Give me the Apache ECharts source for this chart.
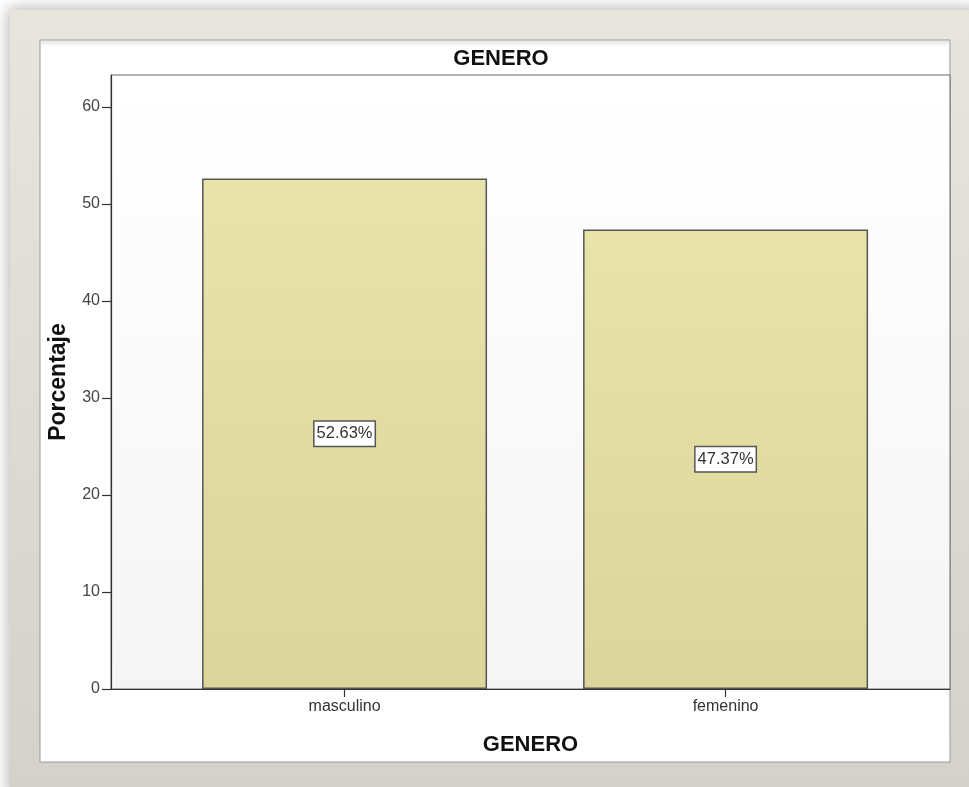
<!DOCTYPE html>
<html>
<head>
<meta charset="utf-8">
<script src="https://cdn.jsdelivr.net/npm/echarts@6/dist/echarts.min.js"></script>
<style>
  html, body { margin: 0; padding: 0; background: #ffffff; }
  #chart { width: 969px; height: 787px; }
</style>
</head>
<body>
<div id="chart"></div>
<script>
// Gender distribution (percent of respondents)
const categories = ['masculino', 'femenino'];
const percentages = [52.63, 47.37];
const yTicks = [0, 10, 20, 30, 40, 50, 60];

const FONT = 'Liberation Sans, Arial, sans-serif';

const chart = echarts.init(document.getElementById('chart'), null, { renderer: 'canvas' });

const barData = categories.map((c, i) => [i, percentages[i]]);

chart.setOption({
  animation: false,
  textStyle: { fontFamily: FONT },
  title: {
    text: 'GENERO',
    left: 496,
    textAlign: 'center',
    top: 43,
    textStyle: { fontFamily: FONT, fontSize: 22, fontWeight: 'bold', color: '#111' }
  },
  graphic: [
    {
      type: 'rect', z: -20, silent: true,
      shape: { x: 10, y: 10, width: 970, height: 790 },
      style: {
        fill: new echarts.graphic.LinearGradient(0, 0, 0, 1, [
          { offset: 0, color: '#e7e5de' },
          { offset: 1, color: '#d3d1c9' }
        ]),
        shadowBlur: 14, shadowColor: 'rgba(0,0,0,0.28)', shadowOffsetX: -2, shadowOffsetY: -2
      }
    },
    {
      type: 'rect', z: -19, silent: true,
      shape: { x: 40, y: 40, width: 910, height: 722 },
      style: { fill: '#ffffff', stroke: '#9a9a9a', lineWidth: 1 }
    },
    {
      type: 'rect', z: -18, silent: true,
      shape: { x: 41, y: 41, width: 908, height: 6 },
      style: {
        fill: new echarts.graphic.LinearGradient(0, 0, 0, 1, [
          { offset: 0, color: 'rgba(0,0,0,0.10)' },
          { offset: 1, color: 'rgba(0,0,0,0)' }
        ])
      }
    }
  ],
  grid: {
    left: 111, top: 75, right: 19, bottom: 98,
    show: true,
    borderColor: '#666',
    borderWidth: 1,
    backgroundColor: new echarts.graphic.LinearGradient(0, 0, 0, 1, [
      { offset: 0, color: '#ffffff' },
      { offset: 1, color: '#f5f5f5' }
    ])
  },
  xAxis: {
    type: 'value',
    min: -0.613,
    max: 1.589,
    name: 'GENERO',
    nameLocation: 'middle',
    nameGap: 45,
    nameTextStyle: { fontFamily: FONT, fontSize: 22, fontWeight: 'bold', color: '#111' },
    splitLine: { show: false },
    axisLine: { show: true, onZero: false, lineStyle: { color: '#333', width: 1.2 } },
    axisTick: {
      show: true, length: 8, inside: false,
      customValues: categories.map((c, i) => i),
      lineStyle: { color: '#333', width: 1.2 }
    },
    axisLabel: {
      show: true,
      customValues: categories.map((c, i) => i),
      formatter: v => categories[Math.round(v)] || '',
      fontFamily: FONT, fontSize: 16, color: '#333', margin: 10
    }
  },
  yAxis: {
    type: 'value',
    min: 0,
    max: 63.3,
    name: 'Porcentaje',
    nameLocation: 'middle',
    nameGap: 41,
    nameTextStyle: { fontFamily: FONT, fontSize: 23, fontWeight: 'bold', color: '#111' },
    splitLine: { show: false },
    axisLine: { show: true, onZero: false, lineStyle: { color: '#333', width: 1.2 } },
    axisTick: {
      show: true, length: 9, inside: false,
      customValues: yTicks,
      lineStyle: { color: '#333', width: 1.2 }
    },
    axisLabel: {
      customValues: yTicks,
      fontFamily: FONT, fontSize: 16, color: '#444', margin: 11
    }
  },
  series: [{
    type: 'bar',
    data: barData,
    barWidth: 285,
    itemStyle: {
      color: new echarts.graphic.LinearGradient(0, 0, 0, 1, [
        { offset: 0, color: '#e8e3a9' },
        { offset: 1, color: '#dbd59a' }
      ]),
      borderColor: '#555',
      borderWidth: 1.5
    },
    label: {
      show: true,
      position: 'inside',
      formatter: p => p.value[1].toFixed(2) + '%',
      fontFamily: FONT, fontSize: 16.5, color: '#333',
      backgroundColor: '#ffffff',
      borderColor: '#555', borderWidth: 1.5,
      padding: [4, 2, 3, 2]
    }
  }]
});
</script>
</body>
</html>
